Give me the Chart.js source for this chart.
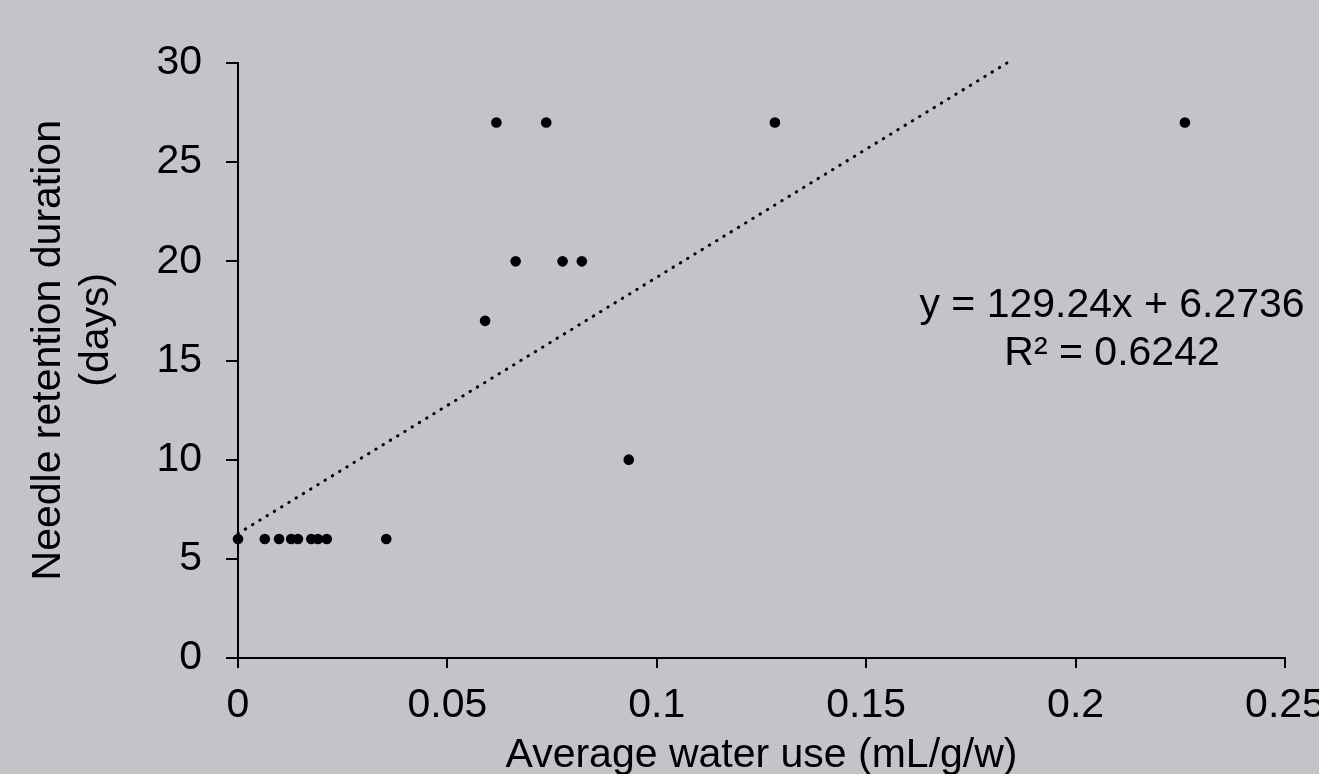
<!DOCTYPE html>
<html>
<head>
<meta charset="utf-8">
<script src="https://cdn.jsdelivr.net/npm/chart.js@4.4.1/dist/chart.umd.min.js"></script>
<style>
  html, body { margin: 0; padding: 0; overflow: hidden; background: #c2c4c9; }
  #wrap { position: absolute; left: 0; top: 0; width: 1360px; height: 800px; }
</style>
</head>
<body>
<div id="wrap"><canvas id="c" width="1360" height="800"></canvas></div>
<script>
// ---- data ----
const waterUse  = [0, 0.0064, 0.0098, 0.0127, 0.0143, 0.0175, 0.0191, 0.0212, 0.0354,
                   0.0590, 0.0617, 0.0663, 0.0736, 0.0775, 0.0821, 0.0933, 0.1282, 0.2261];
const retention = [6, 6, 6, 6, 6, 6, 6, 6, 6,
                   17, 27, 20, 27, 20, 20, 10, 27, 27];
const trendX = [0, 0.1836];
const trendY = [6.2736, 30];
const xTickLabels = ['0', '0.05', '0.1', '0.15', '0.2', '0.25'];
const yTickLabels = ['0', '5', '10', '15', '20', '25', '30'];
const xTitle = 'Average water use (mL/g/w)';
const yTitle = ['Needle retention duration', '(days)'];
const equationLines = ['y = 129.24x + 6.2736', 'R\u00B2 = 0.6242'];
const equationAt = { x: 0.2087, y: 17.18 };

const FONT = '"Liberation Sans", Arial, sans-serif';

const equationPlugin = {
  id: 'equation',
  afterDatasetsDraw(chart) {
    const { ctx, scales } = chart;
    const cx = scales.x.getPixelForValue(equationAt.x);
    const by = scales.y.getPixelForValue(equationAt.y);
    ctx.save();
    ctx.font = '41px ' + FONT;
    ctx.fillStyle = '#000';
    ctx.textAlign = 'center';
    ctx.textBaseline = 'alphabetic';
    equationLines.forEach((t, i) => ctx.fillText(t, cx, by + i * 48));
    ctx.restore();
  }
};

// leading en-spaces nudge each rotated title line upward to match the reference placement
const yTitleLines = ['\u2002' + yTitle[0], '\u2002\u2002\u2002' + yTitle[1]];

new Chart(document.getElementById('c'), {
  type: 'scatter',
  data: {
    datasets: [
      {
        data: waterUse.map((x, i) => ({ x, y: retention[i] })),
        backgroundColor: '#000',
        borderWidth: 0,
        pointRadius: 5.3,
        clip: false
      },
      {
        data: trendX.map((x, i) => ({ x, y: trendY[i] })),
        showLine: true,
        borderColor: '#000',
        borderWidth: 3,
        borderDash: [0.5, 8],
        borderCapStyle: 'round',
        pointRadius: 0,
        clip: false
      }
    ]
  },
  options: {
    responsive: false,
    animation: false,
    devicePixelRatio: 1,
    layout: { padding: { top: 63, right: 75, left: 0, bottom: 0 } },
    plugins: { legend: { display: false }, tooltip: { enabled: false } },
    scales: {
      x: {
        type: 'linear', min: 0, max: 0.25,
        afterFit(s) { s.height = 142; },
        afterBuildTicks(s) { s.ticks = xTickLabels.map((_, i) => ({ value: i * 0.05 })); },
        ticks: {
          color: '#000', padding: 13, maxRotation: 0, autoSkip: false,
          font: { family: FONT, size: 41 },
          callback: (v, i) => xTickLabels[i]
        },
        grid: { drawOnChartArea: false, drawTicks: true, tickLength: 10, color: '#000', lineWidth: 2 },
        border: { display: true, color: '#000', width: 2 },
        title: {
          display: true, text: xTitle, color: '#000',
          font: { family: FONT, size: 41 }, padding: { top: 0, bottom: 20 }
        }
      },
      y: {
        type: 'linear', min: 0, max: 30,
        afterFit(s) { s.width = 238; },
        afterBuildTicks(s) { s.ticks = yTickLabels.map((_, i) => ({ value: i * 5 })); },
        ticks: {
          color: '#000', padding: 24, autoSkip: false,
          font: { family: FONT, size: 41 },
          callback: (v, i) => yTickLabels[i]
        },
        grid: { drawOnChartArea: false, drawTicks: true, tickLength: 12, color: '#000', lineWidth: 2 },
        border: { display: true, color: '#000', width: 2 },
        title: {
          display: true, text: yTitleLines, color: '#000',
          font: { family: FONT, size: 41, lineHeight: 1.17 }, padding: { top: 25, bottom: 0 }
        }
      }
    }
  },
  plugins: [equationPlugin]
});
</script>
</body>
</html>
